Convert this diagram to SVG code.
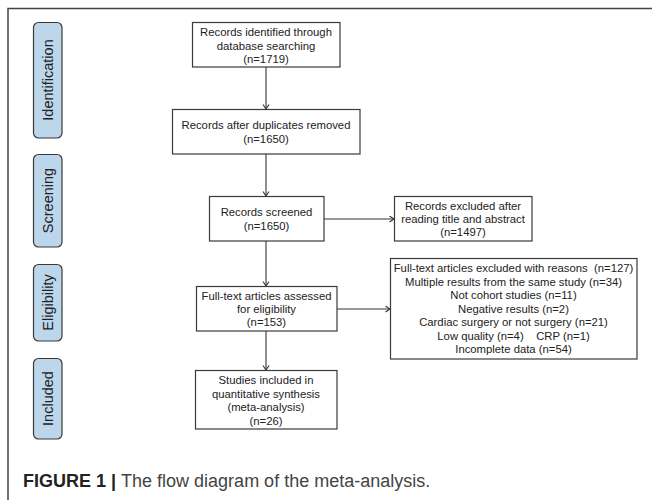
<svg xmlns="http://www.w3.org/2000/svg" width="652" height="500" viewBox="0 0 652 500">
<style>
.frame{stroke:#444;stroke-width:1.5;fill:none}
.box{fill:#fff;stroke:#3a3a3a;stroke-width:1.2}
.stage{fill:#bcd6ec;stroke:#3a3a3a;stroke-width:1.2}
.t{font-family:"Liberation Sans",Arial,sans-serif;font-size:11.3px;fill:#222;text-anchor:middle}
.st{font-family:"Liberation Sans",Arial,sans-serif;font-size:14.5px;fill:#222;text-anchor:middle;dominant-baseline:central}
.conn{stroke:#333;stroke-width:1.1;fill:none}
.cap{font-family:"Liberation Sans",Arial,sans-serif;font-size:18px;fill:#444}
</style>
<defs>
<marker id="arr" markerUnits="userSpaceOnUse" markerWidth="10" markerHeight="10" refX="5" refY="3.5" orient="auto">
<path d="M0.5,0.5 L5,3.5 L0.5,6.5" fill="none" stroke="#333" stroke-width="1.1"/>
</marker>
</defs>
<rect width="652" height="500" fill="#fff"/>
<path class="frame" d="M8,500 V8.5 H652"/>

<g id="stage-identification"><rect class="stage" x="33.5" y="22.5" width="28.5" height="115.5" rx="5"/><text class="st" transform="translate(48,80) rotate(-90)">Identification</text></g>
<g id="stage-screening"><rect class="stage" x="33.5" y="154.5" width="28.5" height="92.5" rx="5"/><text class="st" transform="translate(48,200.5) rotate(-90)">Screening</text></g>
<g id="stage-eligibility"><rect class="stage" x="33.5" y="264.5" width="28.5" height="76.5" rx="5"/><text class="st" transform="translate(48,302.5) rotate(-90)">Eligibility</text></g>
<g id="stage-included"><rect class="stage" x="33.5" y="358.5" width="28.5" height="80.5" rx="5"/><text class="st" transform="translate(48,398.5) rotate(-90)">Included</text></g>

<g id="connectors">
<line class="conn" x1="266" y1="67" x2="266" y2="109" marker-end="url(#arr)"/>
<line class="conn" x1="266" y1="154" x2="266" y2="196" marker-end="url(#arr)"/>
<line class="conn" x1="266" y1="241" x2="266" y2="286" marker-end="url(#arr)"/>
<line class="conn" x1="266" y1="331" x2="266" y2="370" marker-end="url(#arr)"/>
<line class="conn" x1="324" y1="219" x2="394" y2="219" marker-end="url(#arr)"/>
<line class="conn" x1="337" y1="309" x2="390" y2="309" marker-end="url(#arr)"/>
</g>

<g id="n1"><rect class="box" x="192.5" y="22.5" width="147.5" height="44.5"/>
<text class="t" x="266" y="36">Records identified through</text>
<text class="t" x="266" y="49.5">database searching</text>
<text class="t" x="266" y="63">(n=1719)</text></g>

<g id="n2"><rect class="box" x="172.5" y="109.5" width="187.5" height="44.5"/>
<text class="t" x="266" y="129">Records after duplicates removed</text>
<text class="t" x="266" y="142.5">(n=1650)</text></g>

<g id="n3"><rect class="box" x="209.5" y="196.5" width="114.5" height="44.5"/>
<text class="t" x="266.5" y="216">Records screened</text>
<text class="t" x="266.5" y="230">(n=1650)</text></g>

<g id="n4"><rect class="box" x="394.5" y="196.5" width="137.5" height="44.5"/>
<text class="t" x="463" y="210">Records excluded after</text>
<text class="t" x="463" y="223">reading title and abstract</text>
<text class="t" x="463" y="236">(n=1497)</text></g>

<g id="n5"><rect class="box" x="196.5" y="286.5" width="140.5" height="44.5"/>
<text class="t" x="266.5" y="300">Full-text articles assessed</text>
<text class="t" x="266.5" y="313">for eligibility</text>
<text class="t" x="266.5" y="326">(n=153)</text></g>

<g id="n6"><rect class="box" x="390.5" y="258.5" width="246.5" height="100.5"/>
<text class="t" x="513.5" y="272" xml:space="preserve">Full-text articles excluded with reasons  (n=127)</text>
<text class="t" x="513.5" y="285.5">Multiple results from the same study (n=34)</text>
<text class="t" x="513.5" y="299">Not cohort studies (n=11)</text>
<text class="t" x="513.5" y="312.5">Negative results (n=2)</text>
<text class="t" x="513.5" y="326">Cardiac surgery or not surgery (n=21)</text>
<text class="t" x="513.5" y="339.5" xml:space="preserve">Low quality (n=4)    CRP (n=1)</text>
<text class="t" x="513.5" y="353">Incomplete data (n=54)</text></g>

<g id="n7"><rect class="box" x="195.5" y="370.5" width="141.5" height="58.5"/>
<text class="t" x="266" y="384">Studies included in</text>
<text class="t" x="266" y="397.5">quantitative synthesis</text>
<text class="t" x="266" y="411">(meta-analysis)</text>
<text class="t" x="266" y="424.5">(n=26)</text></g>

<text class="cap" x="23" y="487"><tspan font-weight="bold" fill="#222">FIGURE 1 | </tspan><tspan>The flow diagram of the meta-analysis.</tspan></text>
</svg>
